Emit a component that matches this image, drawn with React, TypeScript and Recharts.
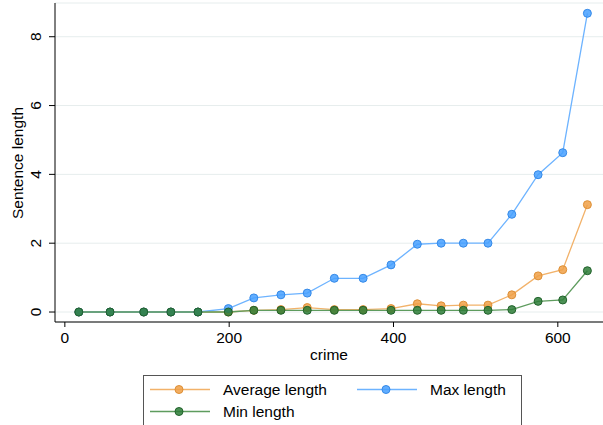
import { CartesianGrid, Line, LineChart, XAxis, YAxis } from 'recharts'

const crime = [17, 55, 96, 129, 162, 199, 230, 263, 295, 328, 363, 397, 429, 458, 485, 515, 544, 576, 606, 636]
const avgLength = [0, 0, 0, 0, 0, 0, 0.05, 0.07, 0.13, 0.07, 0.07, 0.1, 0.24, 0.18, 0.2, 0.2, 0.5, 1.05, 1.23, 3.12]
const maxLength = [0, 0, 0, 0, 0, 0.1, 0.41, 0.5, 0.55, 0.98, 0.98, 1.37, 1.97, 2.0, 2.0, 2.0, 2.84, 3.99, 4.63, 8.68]
const minLength = [0, 0, 0, 0, 0, 0, 0.05, 0.05, 0.05, 0.05, 0.05, 0.05, 0.05, 0.05, 0.05, 0.05, 0.07, 0.31, 0.35, 1.2]
const xTicks = [0, 200, 400, 600]
const yTicks = [0, 2, 4, 6, 8]

const data = crime.map((c, i) => ({
  crime: c,
  avg: avgLength[i],
  max: maxLength[i],
  min: minLength[i],
}))

const FONT = '"Liberation Sans", Arial, sans-serif'

const ORANGE = { line: '#f2b26a', fill: 'rgba(240,160,70,0.85)', stroke: '#de8f35' }
const BLUE = { line: '#6db3ff', fill: 'rgba(70,160,255,0.85)', stroke: '#3489e8' }
const GREEN = { line: '#5e9c5e', fill: 'rgba(45,125,55,0.85)', stroke: '#21622b' }

const XTick = ({ x, payload }: any) => (
  <text x={x} y={343} textAnchor="middle" fontSize={15.5} fontFamily={FONT} fill="#000">
    {payload.value}
  </text>
)

const YTick = ({ y, payload }: any) => (
  <text
    x={41}
    y={y}
    transform={`rotate(-90, 41, ${y})`}
    textAnchor="middle"
    fontSize={15.5}
    fontFamily={FONT}
    fill="#000"
  >
    {payload.value}
  </text>
)

function LegendBox() {
  const row = (y: number, c: typeof ORANGE, x: number, label: string) => (
    <g key={label}>
      <line x1={x} x2={x + 60} y1={y} y2={y} stroke={c.line} strokeWidth={1.3} />
      <circle cx={x + 29} cy={y} r={4} fill={c.fill} stroke={c.stroke} strokeWidth={1} />
      <text x={x + 73} y={y + 5.5} fontSize={15.5} fontFamily={FONT} fill="#000">
        {label}
      </text>
    </g>
  )
  return (
    <div
      style={{
        position: 'absolute',
        left: 143,
        top: 375,
        width: 379,
        height: 60,
        border: '1px solid #555',
        background: '#fff',
        boxSizing: 'border-box',
      }}
    >
      <svg width={379} height={60} style={{ position: 'absolute', left: -1, top: -1 }}>
        {row(14.5, ORANGE, 7, 'Average length')}
        {row(14.5, BLUE, 214, 'Max length')}
        {row(36.5, GREEN, 7, 'Min length')}
      </svg>
    </div>
  )
}

export default function App() {
  return (
    <div
      style={{
        position: 'absolute',
        left: 0,
        top: 0,
        width: 603,
        height: 425,
        overflow: 'hidden',
        background: '#fff',
      }}
    >
      <LineChart
        width={603}
        height={425}
        data={data}
        margin={{ top: 3, right: 0, bottom: 63, left: 0 }}
      >
        <CartesianGrid horizontal vertical={false} stroke="#e6eded" strokeWidth={1} />
        <XAxis
          dataKey="crime"
          type="number"
          domain={[-12, 655]}
          ticks={xTicks}
          allowDataOverflow
          height={40}
          tickSize={5}
          axisLine={{ stroke: '#000' }}
          tickLine={{ stroke: '#000' }}
          tick={<XTick />}
          label={{
            content: () => (
              <text x={329} y={360} textAnchor="middle" fontSize={15.5} fontFamily={FONT} fill="#000">
                crime
              </text>
            ),
          }}
        />
        <YAxis
          type="number"
          domain={[-0.29, 8.98]}
          ticks={yTicks}
          allowDataOverflow
          width={55}
          tickSize={6}
          axisLine={{ stroke: '#000' }}
          tickLine={{ stroke: '#000' }}
          tick={<YTick />}
          label={{
            content: () => (
              <text
                x={22.5}
                y={163}
                transform="rotate(-90, 22.5, 163)"
                textAnchor="middle"
                fontSize={15.5}
                fontFamily={FONT}
                fill="#000"
              >
                Sentence length
              </text>
            ),
          }}
        />
        <Line
          dataKey="avg"
          stroke={ORANGE.line}
          strokeWidth={1.3}
          dot={{ r: 4, fill: ORANGE.fill, stroke: ORANGE.stroke, strokeWidth: 1 }}
          isAnimationActive={false}
        />
        <Line
          dataKey="max"
          stroke={BLUE.line}
          strokeWidth={1.3}
          dot={{ r: 4, fill: BLUE.fill, stroke: BLUE.stroke, strokeWidth: 1 }}
          isAnimationActive={false}
        />
        <Line
          dataKey="min"
          stroke={GREEN.line}
          strokeWidth={1.3}
          dot={{ r: 4, fill: GREEN.fill, stroke: GREEN.stroke, strokeWidth: 1 }}
          isAnimationActive={false}
        />
      </LineChart>
      <LegendBox />
    </div>
  )
}
